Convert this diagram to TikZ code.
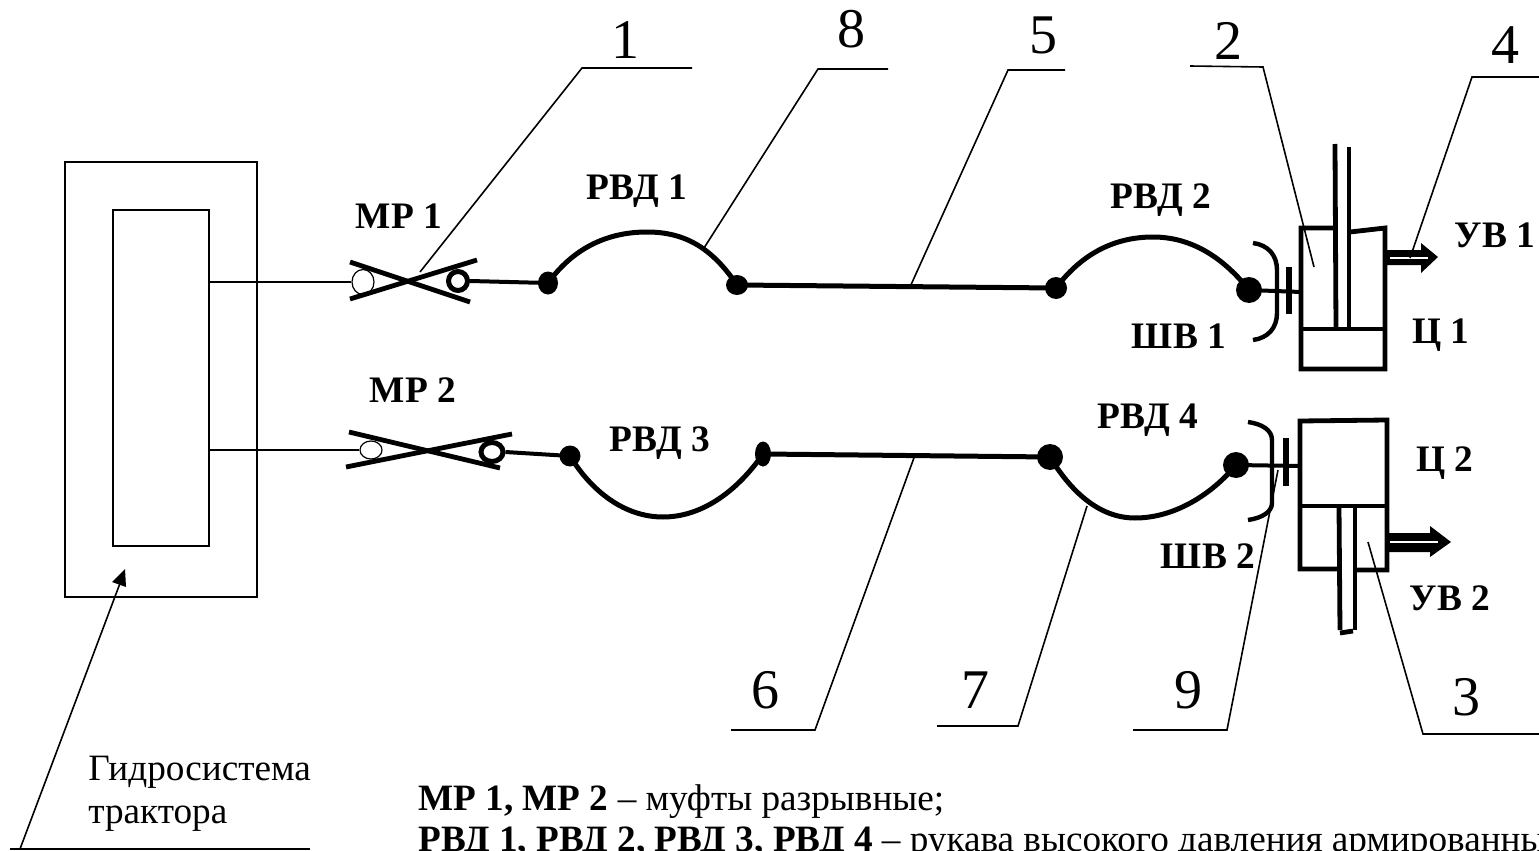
\documentclass[tikz,border=0pt]{standalone}
\usepackage{fontspec}
\setmainfont{Liberation Serif}
\usetikzlibrary{shapes.geometric}
\tikzset{
  thinl/.style={line width=0.8pt,black},
  thick4/.style={line width=2.4pt,black},
  hose/.style={line width=2.5pt,black},
  pipe/.style={line width=2pt,black},
  dotn/.style={ellipse,fill=black,inner sep=0pt,minimum width=#1,minimum height=#1},
  lab/.style={anchor=base,inner sep=0pt,font=\fontsize{18.7pt}{21pt}\selectfont\bfseries},
  num/.style={anchor=base,inner sep=0pt,font=\fontsize{28pt}{31pt}\selectfont},
  txt/.style={anchor=base west,inner sep=0pt,font=\fontsize{18.6pt}{21pt}\selectfont},
  ringthin/.style={ellipse,draw=black,line width=0.6pt,fill=white,inner sep=0pt},
  ringthick/.style={ellipse,draw=black,line width=2.5pt,fill=white,inner sep=0pt},
}
\begin{document}
\begin{tikzpicture}[x=0.5pt,y=-0.5pt]
\useasboundingbox (0,0) rectangle (1539,851);
\clip (0,0) rectangle (1539,851);
\fill[white] (0,0) rectangle (1539,851);
% hydraulic system
\node[draw,thinl,minimum width=96pt,minimum height=217.5pt,inner sep=0pt] (outer) at (161,379.5) {};
\node[draw,thinl,minimum width=48pt,minimum height=168pt,inner sep=0pt] (inner) at (161,378) {};
\coordinate (w1s) at (209,282);
\coordinate (w2s) at (209,450);
% couplings
\node[ringthin,minimum width=11pt,minimum height=12.5pt] (c1l) at (363,282) {};
\node[ringthick,minimum width=9.5pt,minimum height=9.5pt] (c1r) at (458,281) {};
\node[ringthin,minimum width=11pt,minimum height=9pt] (c2l) at (371,450) {};
\node[ringthick,minimum width=11pt,minimum height=9.5pt] (c2r) at (492,452) {};
\draw[thinl] (w1s) -- (c1l.west);
\draw[thinl] (w2s) -- (c2l.west);
\draw[thick4] (350,262) -- (470,302);
\draw[thick4] (350,299) -- (477,260);
\draw[thick4] (349,432) -- (500,468);
\draw[thick4] (346,467) -- (512,434);
% dots
\node[dotn=10pt,minimum height=11.5pt] (d1) at (548,283) {};
\node[dotn=11pt,minimum height=10pt] (d2) at (737,285) {};
\node[dotn=11pt] (d3) at (1056,288) {};
\node[dotn=13pt] (d4) at (1249,290) {};
\node[dotn=10.5pt] (d5) at (570,456) {};
\node[dotn=8pt,minimum height=12.5pt] (d6) at (763,454) {};
\node[dotn=13pt] (d7) at (1050,457) {};
\node[dotn=13pt] (d8) at (1236,465) {};
% pipes
\draw[pipe] (c1r.east) -- (d1.center);
\draw[pipe] (c2r.east) -- (d5.center);
\draw[hose] (d1.center) .. controls (572,250) and (605,232) .. (647,232) .. controls (685,232) and (712,248) .. (d2.center);
\draw[hose] (d2.center) -- (d3.center);
\draw[hose] (d3.center) .. controls (1080,256) and (1112,237) .. (1153,237) .. controls (1190,237) and (1222,256) .. (d4.center);
\draw[hose] (d5.center) .. controls (592,492) and (625,517) .. (663,517) .. controls (703,517) and (738,490) .. (d6.center);
\draw[hose] (d7.center) .. controls (1070,490) and (1098,518) .. (1135,518) .. controls (1175,518) and (1212,494) .. (d8.center);
\draw[hose] (d6.center) -- (d7.center);
% cylinder inlets
\coordinate (c1in) at (1301,292);
\coordinate (c2in) at (1300,466);
\draw[pipe] (d4.center) -- (c1in);
\draw[pipe] (d8.center) -- (c2in);
\draw[line width=2.7pt] (1289,267) -- (1289,314);
\draw[line width=2.7pt] (1286,438) -- (1286,486);
\draw[line width=2.2pt] (1253,243) .. controls (1268,245) and (1277,255) .. (1277,270) -- (1277,313) .. controls (1277,328) and (1268,338) .. (1253,340);
\draw[line width=2.2pt] (1248,422) .. controls (1262,424) and (1272,430) .. (1272,440) -- (1272,503) .. controls (1272,512) and (1262,518) .. (1248,520);
% cylinder 1
\draw[thick4] (1336,228) -- (1301,228) -- (1301,369) -- (1385,369) -- (1385,228) -- (1350,232);
\draw[thick4] (1301,329) -- (1385,329);
\draw[thick4] (1336,329) -- (1335,144);
\draw[thick4] (1349,329) -- (1349,147);
% arrow 1
\fill[black] (1387,250) -- (1421,250) -- (1421,243) -- (1438,257) -- (1421,273) -- (1421,265) -- (1387,265) -- cycle;
\draw[white,line width=1pt] (1390,257.5) -- (1428,257.5);
% cylinder 2
\draw[thick4] (1338,569) -- (1300,569) -- (1300,421) -- (1387,420) -- (1387,570) -- (1355,570);
\draw[thick4] (1300,506) -- (1387,506);
\draw[thick4] (1339,506) -- (1340,630);
\draw[thick4] (1355,506) -- (1355,630);
\draw[thick4] (1340,633) -- (1353,631);
% arrow 2
\fill[black] (1388,533) -- (1430,533) -- (1430,526) -- (1451,542) -- (1430,557) -- (1430,552) -- (1388,552) -- cycle;
\draw[white,line width=1pt] (1390,542) -- (1438,542);
% labels
\node[lab] (mr1) at (399,228) {МР 1};
\node[lab] (mr2) at (413,402) {МР 2};
\node[lab] (r1) at (637,199) {РВД 1};
\node[lab] (r2) at (1161,208) {РВД 2};
\node[lab] (r3) at (660,451) {РВД 3};
\node[lab] (r4) at (1148,428) {РВД 4};
\node[lab] (sh1) at (1179,348) {ШВ 1};
\node[lab] (sh2) at (1208,568) {ШВ 2};
\node[lab] (ts1) at (1441,343) {Ц 1};
\node[lab] (ts2) at (1445,471) {Ц 2};
\node[lab] (uv1) at (1495,247) {УВ 1};
\node[lab] (uv2) at (1450,610) {УВ 2};
% numbers
\node[num] (n1) at (625,58) {1};
\node[num] (n8) at (851,47) {8};
\node[num] (n5) at (1043,54) {5};
\node[num] (n2) at (1228,60) {2};
\node[num] (n4) at (1505,63) {4};
\node[num] (n6) at (765,708) {6};
\node[num] (n7) at (975,708) {7};
\node[num] (n9) at (1188,708) {9};
\node[num] (n3) at (1466,715) {3};
% leaders
\coordinate (l1) at (420,272);
\coordinate (l8) at (704,248);
\coordinate (l5) at (910,287);
\coordinate (l2) at (1314,267);
\coordinate (l4) at (1410,258);
\coordinate (l6) at (915,455);
\coordinate (l7) at (1087,506);
\coordinate (l9) at (1278,470);
\coordinate (l3) at (1368,542);
\draw[thinl] (692,68) -- (582,68) -- (l1);
\draw[thinl] (888,69) -- (818,69) -- (l8);
\draw[thinl] (1065,70) -- (1008,70) -- (l5);
\draw[thinl] (1190,66) -- (1263,67) -- (l2);
\draw[thinl] (1539,77) -- (1472,77) -- (l4);
\draw[thinl] (731,730) -- (815,730) -- (l6);
\draw[thinl] (937,726) -- (1018,726) -- (l7);
\draw[thinl] (1133,730) -- (1227,730) -- (l9);
\draw[thinl] (1539,734) -- (1423,734) -- (l3);
% tractor leader
\coordinate (ta) at (122,578);
\draw[thinl] (310,849) -- (10,849);
\draw[thinl] (20,849) -- (ta);
\fill[black] (125,569) -- (112,582) -- (126,587) -- cycle;
% texts
\node[txt] (g1) at (88,780) {Гидросистема};
\node[txt] (g2) at (88,823) {трактора};
\node[txt] (t1) at (418,810) {\textbf{МР 1, МР 2} – муфты разрывные;};
\node[txt] (t2) at (418,851) {\textbf{РВД 1, РВД 2, РВД 3, РВД 4} – рукава высокого давления армированные};
\end{tikzpicture}
\end{document}
